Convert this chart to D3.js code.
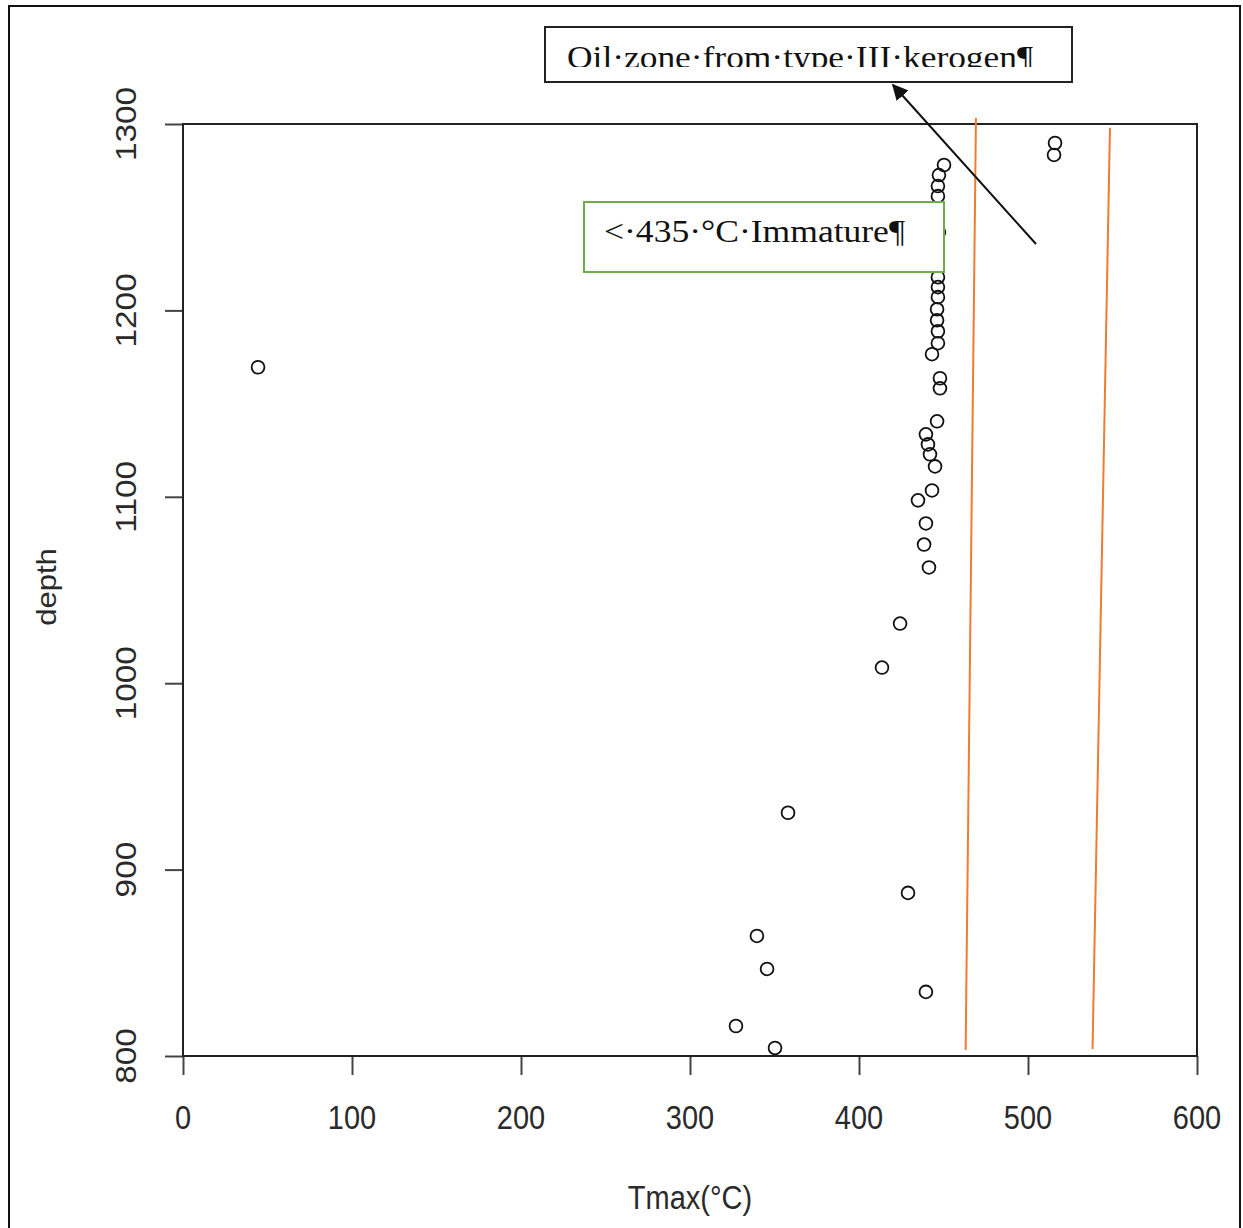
<!DOCTYPE html>
<html>
<head>
<meta charset="utf-8">
<script src="https://cdn.jsdelivr.net/npm/d3@7"></script>
<style>
  body { margin: 0; background: #fff; }
  svg { display: block; }
</style>
</head>
<body>
<svg id="chart" width="1243" height="1228"></svg>
<script>
// Tmax (°C) vs depth
const tmax = [450.3, 447.3, 446.7, 446.7, 447.3, 446.7, 446.7, 446.7, 446.2, 446.2, 446.7, 446.7, 443.2,
  447.9, 447.9, 446.2, 439.6, 440.8, 442.0, 445.0, 443.2, 434.9, 439.6, 438.5, 441.4,
  424.3, 413.6, 358.0, 429.0, 339.6, 345.6, 439.6, 327.2, 350.3,
  516.0, 515.4, 44.4];
const depth = [1278.0, 1272.6, 1266.7, 1261.3, 1242.0, 1217.8, 1212.5, 1207.1, 1200.6, 1194.7, 1188.8, 1182.4, 1176.5,
  1163.6, 1158.2, 1140.5, 1133.5, 1128.1, 1122.8, 1116.3, 1103.4, 1098.1, 1085.7, 1074.4, 1062.1,
  1032.0, 1008.4, 930.5, 887.5, 864.4, 846.7, 834.4, 816.1, 804.3,
  1289.8, 1283.4, 1169.5];

const xTicks = [0, 100, 200, 300, 400, 500, 600];
const yTicks = [800, 900, 1000, 1100, 1200, 1300];

// hand drawn orange boundary lines: [tmax top, depth top, tmax bottom, depth bottom]
const zoneLines = [
  [469.2, 1303.2, 463.1, 803.2],
  [548.5, 1298.0, 538.2, 803.8]
];

const margin = {top: 124, left: 183};
const width = 1014, height = 932;

const svg = d3.select("#chart");

// outer frame
svg.append("rect")
  .attr("x", 9).attr("y", 6)
  .attr("width", 1231).attr("height", 1240)
  .attr("fill", "none").attr("stroke", "#111").attr("stroke-width", 2);

const g = svg.append("g").attr("transform", `translate(${margin.left},${margin.top})`);

const x = d3.scaleLinear().domain([0, 600]).range([0, width]);
const y = d3.scaleLinear().domain([800, 1300]).range([height, 0]);

// axes (labels drawn by hand below, stretched like the picture)
const xAxis = g.append("g")
  .attr("transform", `translate(0,${height})`)
  .call(d3.axisBottom(x).tickValues(xTicks).tickSize(19).tickFormat(""));
const yAxis = g.append("g")
  .call(d3.axisLeft(y).tickValues(yTicks).tickSize(18).tickFormat(""));
[xAxis, yAxis].forEach(a => {
  a.select(".domain").remove();
  a.selectAll(".tick line").attr("stroke", "#444").attr("stroke-width", 2);
});

xTicks.forEach(t => {
  g.append("text")
    .attr("transform", `translate(${x(t)},${height + 73}) scale(1,1.15)`)
    .attr("text-anchor", "middle")
    .style("font-family", "'Liberation Sans', Arial, sans-serif")
    .style("font-size", "29px")
    .style("fill", "#2a2a2a")
    .text(t);
});

yTicks.forEach(t => {
  g.append("text")
    .attr("transform", `translate(-47,${y(t)}) rotate(-90) scale(1.15,1)`)
    .attr("text-anchor", "middle")
    .style("font-family", "'Liberation Sans', Arial, sans-serif")
    .style("font-size", "29px")
    .style("fill", "#2a2a2a")
    .text(t);
});

// axis titles
svg.append("text")
  .attr("transform", `translate(690,1209) scale(1,1.15)`)
  .attr("text-anchor", "middle")
  .style("font-family", "'Liberation Sans', Arial, sans-serif")
  .style("font-size", "29px")
  .style("fill", "#2a2a2a")
  .text("Tmax(°C)");

svg.append("text")
  .attr("transform", `translate(56,587) rotate(-90) scale(1.15,1)`)
  .attr("text-anchor", "middle")
  .style("font-family", "'Liberation Sans', Arial, sans-serif")
  .style("font-size", "27px")
  .style("fill", "#2a2a2a")
  .text("depth");

// points
const pts = tmax.map((t, i) => ({t: t, d: depth[i]}));
g.selectAll("circle.pt")
  .data(pts)
  .join("circle")
  .attr("class", "pt")
  .attr("cx", d => x(d.t))
  .attr("cy", d => y(d.d))
  .attr("r", 6.4)
  .attr("fill", "none")
  .attr("stroke", "#111")
  .attr("stroke-width", 1.8);

// plot box
g.append("rect")
  .attr("width", width).attr("height", height)
  .attr("fill", "none").attr("stroke", "#222").attr("stroke-width", 2);

// orange zone lines
g.selectAll("line.zone")
  .data(zoneLines)
  .join("line")
  .attr("class", "zone")
  .attr("x1", d => x(d[0])).attr("y1", d => y(d[1]))
  .attr("x2", d => x(d[2])).attr("y2", d => y(d[3]))
  .attr("stroke", "#ED7D31").attr("stroke-width", 2);

// annotation: immature box (covers part of the cluster)
svg.append("rect")
  .attr("x", 584).attr("y", 202).attr("width", 360).attr("height", 70)
  .attr("fill", "#fff").attr("stroke", "#70AD47").attr("stroke-width", 2);
svg.append("text")
  .attr("x", 604).attr("y", 242)
  .attr("textLength", 301).attr("lengthAdjust", "spacingAndGlyphs")
  .style("font-family", "'Liberation Serif', 'Times New Roman', serif")
  .style("font-size", "31px")
  .style("fill", "#111")
  .text("<·435·°C·Immature¶");

// annotation: oil zone box with arrow
svg.append("defs").append("marker")
  .attr("id", "head")
  .attr("viewBox", "0 0 10 10")
  .attr("refX", 9).attr("refY", 5)
  .attr("markerWidth", 8).attr("markerHeight", 8)
  .attr("markerUnits", "strokeWidth")
  .attr("orient", "auto")
  .append("path").attr("d", "M0,0 L10,5 L0,10 Z").attr("fill", "#111");

svg.append("line")
  .attr("x1", 1036).attr("y1", 244)
  .attr("x2", 893).attr("y2", 85)
  .attr("stroke", "#111").attr("stroke-width", 2)
  .attr("marker-end", "url(#head)");

svg.append("rect")
  .attr("x", 545).attr("y", 27).attr("width", 527).attr("height", 55)
  .attr("fill", "#fff").attr("stroke", "#222").attr("stroke-width", 2);
svg.select("defs").append("clipPath").attr("id", "cut")
  .append("rect").attr("x", 546).attr("y", 28).attr("width", 525).attr("height", 39);
svg.append("text")
  .attr("x", 567).attr("y", 68)
  .attr("clip-path", "url(#cut)")
  .attr("textLength", 466).attr("lengthAdjust", "spacingAndGlyphs")
  .style("font-family", "'Liberation Serif', 'Times New Roman', serif")
  .style("font-size", "31px")
  .style("fill", "#111")
  .text("Oil·zone·from·type·III·kerogen¶");
</script>
</body>
</html>
